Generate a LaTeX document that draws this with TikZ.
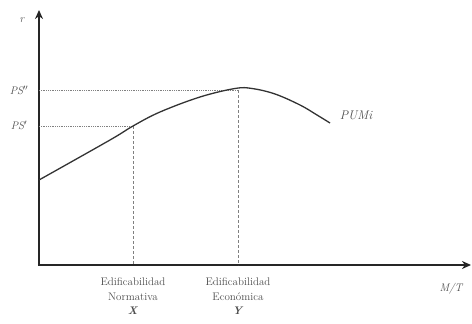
\documentclass[tikz,border=0pt]{standalone}
\usetikzlibrary{arrows.meta}
\begin{document}
\begin{tikzpicture}[x=1pt,y=-1pt,
  axis/.style={line width=2.4pt,black!85,-{Stealth[length=9pt,width=8pt]}},
  curveline/.style={line width=1.3pt,black!80},
  guideh/.style={gray,line width=0.7pt,dash pattern=on 1pt off 0.8pt},
  guidev/.style={gray,line width=0.8pt,dash pattern=on 3pt off 2pt},
  lbl/.style={text=black!70,font=\fontsize{11}{14.5}\selectfont,inner sep=0pt},
  ilbl/.style={lbl,font=\itshape\fontsize{11}{13}\selectfont}]
\useasboundingbox (0,0) rectangle (472,324);
% axes
\coordinate (O) at (39,265);
\coordinate (ytop) at (39,10);
\coordinate (xend) at (471,265);
\draw[axis] (O) -- (ytop);
\draw[axis] ([xshift=-1.2pt]O) -- (xend);
% key points
\coordinate (A) at (133,126);
\coordinate (B) at (238,88);
\coordinate (Ay) at (39,126);
\coordinate (By) at (39,90);
\coordinate (Ax) at (133,265);
\coordinate (Bx) at (238,265);
\coordinate (B2) at (238,90);
% guides
\draw[guideh] (Ay) -- (A);
\draw[guideh] (By) -- (B2);
\draw[guidev] (A) -- (Ax);
\draw[guidev] (B2) -- (Bx);
% curve
\draw[curveline] plot[smooth,tension=0.6] coordinates {(39,180) (110,140) (133,126) (160,112) (200,97) (235,88.5) (252,88.5) (275,94) (300,105) (317,115) (330,123)};
% labels
\node[ilbl] (r) at (22,20) {r};
\node[ilbl] (ps2) at (19,90) {PS$''$};
\node[ilbl] (ps1) at (19,125) {PS$'$};
\node[ilbl,font=\itshape\fontsize{12.5}{14}\selectfont] (pum) at (356,115) {PUMi};
\node[ilbl] (mt) at (451,289) {M/T};
\node[lbl,align=center] (xl) at (133,296.5) {Edificabilidad\\Normativa\\\textbf{\textit{X}}};
\node[lbl,align=center] (yl) at (238,296.5) {Edificabilidad\\Económica\\\textbf{\textit{Y}}};
\end{tikzpicture}
\end{document}
